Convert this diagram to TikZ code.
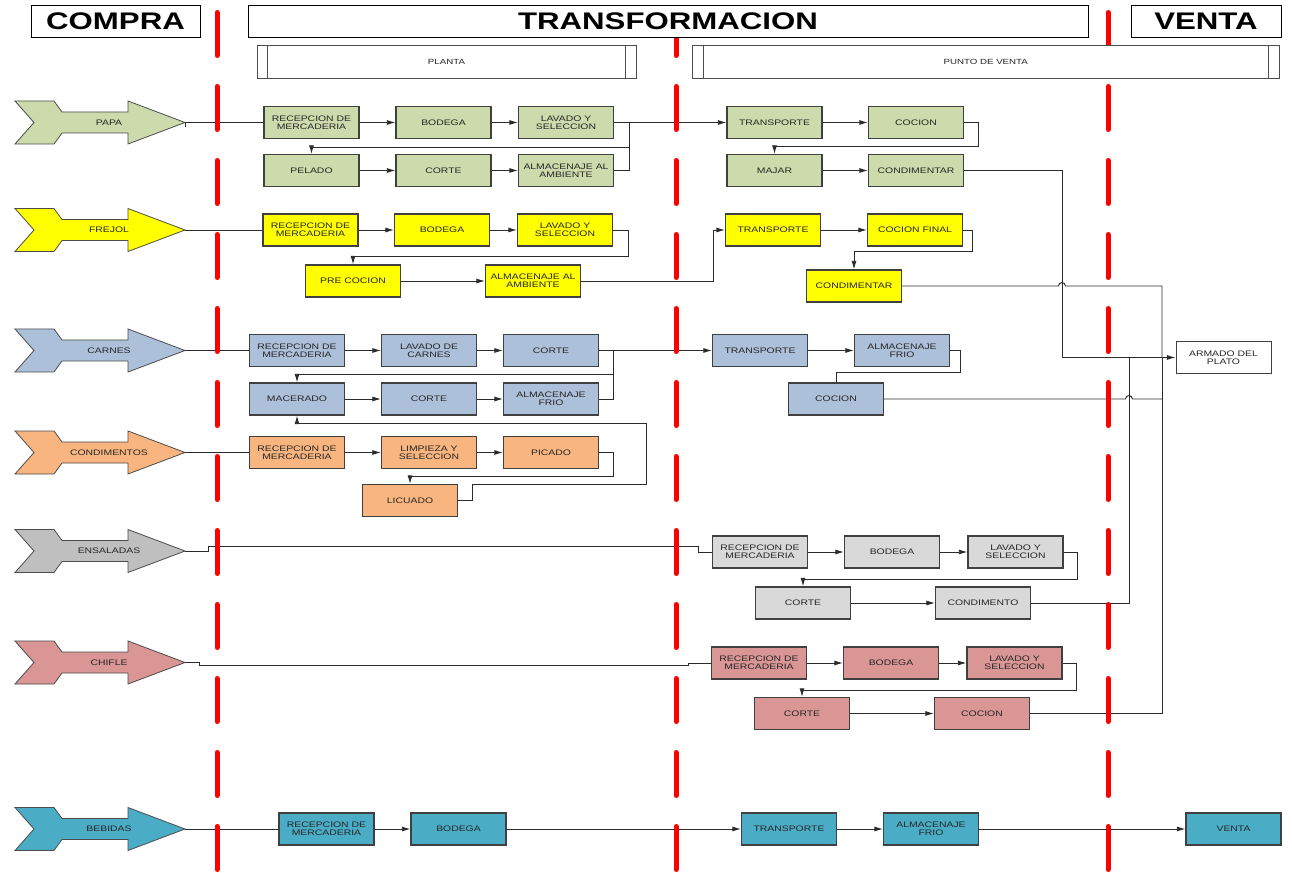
\documentclass[tikz,border=0pt]{standalone}
\usepackage{fontspec}
\setmainfont{Liberation Sans}[FakeStretch=1.3]
\usetikzlibrary{arrows.meta}

\definecolor{cpapa}{HTML}{CDDAAB}
\definecolor{cfrejol}{HTML}{FFFF00}
\definecolor{ccarnes}{HTML}{ADC0DA}
\definecolor{ccond}{HTML}{F9B57F}
\definecolor{censarrow}{HTML}{BFBFBF}
\definecolor{censbox}{HTML}{D9D9D9}
\definecolor{cchifle}{HTML}{D99694}
\definecolor{cbeb}{HTML}{4BACC6}
\definecolor{cline}{HTML}{2B2B2B}

% supply arrow: name, y, fill, label
\newcommand\supplyarrow[4]{%
  \begin{scope}[shift={(0,#2)}]
    \draw[shapeline, fill=#3] (15,-21.5) -- (54,-21.5) -- (62,-10.5) -- (128,-10.5)
      -- (128,-21.5) -- (185,0) -- (128,21.5) -- (128,10.5) -- (62,10.5)
      -- (54,21.5) -- (15,21.5) -- (34,0) -- cycle;
    \node[lbl] (#1) at (109,0) {#4};
    \coordinate (#1-tip) at (185,0);
  \end{scope}}

\begin{document}
\begin{tikzpicture}[x=0.75pt,y=-0.75pt,
  shapeline/.style={draw=black!70, line width=0.6pt},
  lbl/.style={font=\fontsize{6}{6.4}\selectfont, text=black!85, inner sep=0pt},
  proc/.style={draw=black!75, line width=0.8pt, minimum width=71.25pt,
    minimum height=24pt, inner sep=0pt, align=center,
    font=\fontsize{6}{6.3}\selectfont, text=black!85},
  head/.style={draw=black, fill=white, line width=0.7pt, minimum height=24pt,
    inner sep=0pt, font=\fontsize{18}{20}\selectfont\bfseries},
  zone/.style={draw=black!70, fill=white, line width=0.7pt, minimum height=24.75pt,
    inner sep=0pt, font=\fontsize{5.6}{6}\selectfont, text=black!85},
  link/.style={draw=cline, line width=0.7pt},
  flow/.style={link, -{Latex[length=6.5pt,width=3.8pt]}},
  reddash/.style={draw=red, line width=3.75pt, line cap=round,
    dash pattern=on 32.25pt off 23.25pt}]

\fill[white] (0,0) rectangle (1292,873);
\useasboundingbox (0,0) rectangle (1292,873);

% ---------- supply arrows ----------
\supplyarrow{papa}{122.5}{cpapa}{PAPA}
\supplyarrow{frejol}{230}{cfrejol}{FREJOL}
\supplyarrow{carnes}{350.5}{ccarnes}{CARNES}
\supplyarrow{condimentos}{452.5}{ccond}{CONDIMENTOS}
\supplyarrow{ensaladas}{551}{censarrow}{ENSALADAS}
\supplyarrow{chifle}{662.5}{cchifle}{CHIFLE}
\supplyarrow{bebidas}{829}{cbeb}{BEBIDAS}

% ---------- process boxes ----------
% papa
\node[proc, fill=cpapa] (pa1) at (311.5,122.5) {RECEPCION DE\\MERCADERIA};
\node[proc, fill=cpapa] (pa2) at (443.5,122.5) {BODEGA};
\node[proc, fill=cpapa] (pa3) at (566,122.5) {LAVADO Y\\SELECCION};
\node[proc, fill=cpapa] (pa4) at (311.5,170.5) {PELADO};
\node[proc, fill=cpapa] (pa5) at (443.5,170.5) {CORTE};
\node[proc, fill=cpapa] (pa6) at (566,170.5) {ALMACENAJE AL\\AMBIENTE};
\node[proc, fill=cpapa] (pa7) at (774.5,122.5) {TRANSPORTE};
\node[proc, fill=cpapa] (pa8) at (916,122.5) {COCION};
\node[proc, fill=cpapa] (pa9) at (774.5,170.5) {MAJAR};
\node[proc, fill=cpapa] (pa10) at (916,170.5) {CONDIMENTAR};
% frejol
\node[proc, fill=cfrejol] (fr1) at (310.5,230) {RECEPCION DE\\MERCADERIA};
\node[proc, fill=cfrejol] (fr2) at (442,230) {BODEGA};
\node[proc, fill=cfrejol] (fr3) at (565,230) {LAVADO Y\\SELECCION};
\node[proc, fill=cfrejol] (fr4) at (353,281) {PRE COCION};
\node[proc, fill=cfrejol] (fr5) at (533,281) {ALMACENAJE AL\\AMBIENTE};
\node[proc, fill=cfrejol] (fr6) at (773,230) {TRANSPORTE};
\node[proc, fill=cfrejol] (fr7) at (915,230) {COCION FINAL};
\node[proc, fill=cfrejol] (fr8) at (854,286) {CONDIMENTAR};
% carnes
\node[proc, fill=ccarnes] (ca1) at (297,350.5) {RECEPCION DE\\MERCADERIA};
\node[proc, fill=ccarnes] (ca2) at (429,350.5) {LAVADO DE\\CARNES};
\node[proc, fill=ccarnes] (ca3) at (551,350.5) {CORTE};
\node[proc, fill=ccarnes] (ca4) at (297,399) {MACERADO};
\node[proc, fill=ccarnes] (ca5) at (429,399) {CORTE};
\node[proc, fill=ccarnes] (ca6) at (551,399) {ALMACENAJE\\FRIO};
\node[proc, fill=ccarnes] (ca7) at (760,350.5) {TRANSPORTE};
\node[proc, fill=ccarnes] (ca8) at (902,350.5) {ALMACENAJE\\FRIO};
\node[proc, fill=ccarnes] (ca9) at (836,399) {COCION};
% condimentos
\node[proc, fill=ccond] (co1) at (297,452.5) {RECEPCION DE\\MERCADERIA};
\node[proc, fill=ccond] (co2) at (429,452.5) {LIMPIEZA Y\\SELECCION};
\node[proc, fill=ccond] (co3) at (551,452.5) {PICADO};
\node[proc, fill=ccond] (co4) at (410,500.5) {LICUADO};
% ensaladas
\node[proc, fill=censbox] (en1) at (760,552) {RECEPCION DE\\MERCADERIA};
\node[proc, fill=censbox] (en2) at (892,552) {BODEGA};
\node[proc, fill=censbox] (en3) at (1015.5,552) {LAVADO Y\\SELECCION};
\node[proc, fill=censbox] (en4) at (803,603) {CORTE};
\node[proc, fill=censbox] (en5) at (983,603) {CONDIMENTO};
% chifle
\node[proc, fill=cchifle] (ch1) at (759,663) {RECEPCION DE\\MERCADERIA};
\node[proc, fill=cchifle] (ch2) at (891,663) {BODEGA};
\node[proc, fill=cchifle] (ch3) at (1014.5,663) {LAVADO Y\\SELECCION};
\node[proc, fill=cchifle] (ch4) at (802,713.5) {CORTE};
\node[proc, fill=cchifle] (ch5) at (982,713.5) {COCION};
% bebidas
\node[proc, fill=cbeb] (be1) at (326.5,829) {RECEPCION DE\\MERCADERIA};
\node[proc, fill=cbeb] (be2) at (458.5,829) {BODEGA};
\node[proc, fill=cbeb] (be3) at (789,829) {TRANSPORTE};
\node[proc, fill=cbeb] (be4) at (931,829) {ALMACENAJE\\FRIO};
\node[proc, fill=cbeb] (be5) at (1233.5,829) {VENTA};
% final assembly
\node[proc, fill=white, line width=0.7pt] (arm) at (1223.5,357.5) {ARMADO DEL\\PLATO};

\coordinate (jPapa) at (1062,357.5);
\coordinate (jEns) at (1129,357.5);
\coordinate (jMain) at (1162,357.5);

% ---------- connectors ----------
% papa
\draw[link] ([yshift=-3.75pt]papa-tip) -- (papa-tip) -- (pa1.west);
\draw[flow] (pa1) -- (pa2);
\draw[flow] (pa2) -- (pa3);
\draw[flow] (pa3.east) -- (pa7.west);
\draw[flow] (pa3.east) -- ++(15,0) -- ++(0,24.5) -| (pa4.north);
\draw[flow] (pa4) -- (pa5);
\draw[flow] (pa5) -- (pa6);
\draw[link] (pa6.east) -| ([xshift=11.25pt]pa3.east);
\draw[flow] (pa7) -- (pa8);
\draw[flow] (pa8.east) -- ++(14,0) -- ++(0,23.5) -| (pa9.north);
\draw[flow] (pa9) -- (pa10);
\draw[flow] (pa10.east) -| (jPapa) -- (arm.west);
% frejol
\draw[link] (frejol-tip) -- (fr1.west);
\draw[flow] (fr1) -- (fr2);
\draw[flow] (fr2) -- (fr3);
\draw[flow] (fr3.east) -- ++(15,0) -- ++(0,26.5) -| (fr4.north);
\draw[flow] (fr4) -- (fr5);
\draw[flow] (fr5.east) -- ++(132,0) |- (fr6.west);
\draw[flow] (fr6) -- (fr7);
\draw[flow] (fr7.east) -- ++(9,0) -- ++(0,21) -| (fr8.north);
\draw[link] (fr8.east) -- (1058.5,286) arc[start angle=180, end angle=0, radius=2.6pt]
  -- (1162,286) -- (jMain);
% carnes
\draw[link] (carnes-tip) -- (ca1.west);
\draw[flow] (ca1) -- (ca2);
\draw[flow] (ca2) -- (ca3);
\draw[flow] (ca3.east) -- (ca7.west);
\draw[flow] (ca3.east) -- ++(14,0) -- ++(0,23.5) -| (ca4.north);
\draw[flow] (ca4) -- (ca5);
\draw[flow] (ca5) -- (ca6);
\draw[link] (ca6.east) -| ([xshift=10.5pt]ca3.east);
\draw[flow] (ca7) -- (ca8);
\draw[link] (ca8.east) -- ++(10,0) -- ++(0,22) -| (ca9.north);
\draw[link] (ca9.east) -- (1125.5,399) arc[start angle=180, end angle=0, radius=2.6pt]
  -- (1162,399);
% condimentos
\draw[link] (condimentos-tip) -- (co1.west);
\draw[flow] (co1) -- (co2);
\draw[flow] (co2) -- (co3);
\draw[flow] (co3.east) -- ++(14,0) -- ++(0,23.5) -| (co4.north);
\draw[flow] (co4.east) -- ++(14,0) -- ++(0,-16.5) -- ++(174.5,0) -- ++(0,-61) -| (ca4.south);
% ensaladas
\draw[link] (ensaladas-tip) -- ++(23,0) -- ++(0,-5) -- ++(490,0) |- (en1.west);
\draw[flow] (en1) -- (en2);
\draw[flow] (en2) -- (en3);
\draw[flow] (en3.east) -- ++(14,0) -- ++(0,27) -| (en4.north);
\draw[flow] (en4) -- (en5);
\draw[link] (en5.east) -| (jEns);
% chifle
\draw[link] (chifle-tip) -- ++(14,0) -- ++(0,3) -- ++(489,0) |- (ch1.west);
\draw[flow] (ch1) -- (ch2);
\draw[flow] (ch2) -- (ch3);
\draw[flow] (ch3.east) -- ++(14,0) -- ++(0,27) -| (ch4.north);
\draw[flow] (ch4) -- (ch5);
\draw[link] (ch5.east) -| (jMain);
% bebidas
\draw[link] (bebidas-tip) -- (be1.west);
\draw[flow] (be1) -- (be2);
\draw[flow] (be2) -- (be3);
\draw[flow] (be3) -- (be4);
\draw[flow] (be4) -- (be5);

% ---------- stage boundaries ----------
\draw[reddash] (217,12.5) -- (217,873);
\draw[reddash] (676,12.5) -- (676,873);
\draw[reddash] (1108,12.5) -- (1108,873);

% ---------- headers ----------
\node[head, minimum width=126.75pt] (hcompra) at (115.5,21) {COMPRA};
\node[head, minimum width=630pt] (htrans) at (668,21) {TRANSFORMACION};
\node[head, minimum width=112.5pt] (hventa) at (1206,21) {VENTA};

\node[zone, minimum width=284.25pt] (planta) at (446.5,61.5) {PLANTA};
\draw[shapeline] ([xshift=8.25pt]planta.north west) -- ([xshift=8.25pt]planta.south west);
\draw[shapeline] ([xshift=-8.25pt]planta.north east) -- ([xshift=-8.25pt]planta.south east);
\node[zone, minimum width=440.6pt] (pventa) at (985.75,61.5) {PUNTO DE VENTA};
\draw[shapeline] ([xshift=8.6pt]pventa.north west) -- ([xshift=8.6pt]pventa.south west);
\draw[shapeline] ([xshift=-8.6pt]pventa.north east) -- ([xshift=-8.6pt]pventa.south east);

\end{tikzpicture}
\end{document}
